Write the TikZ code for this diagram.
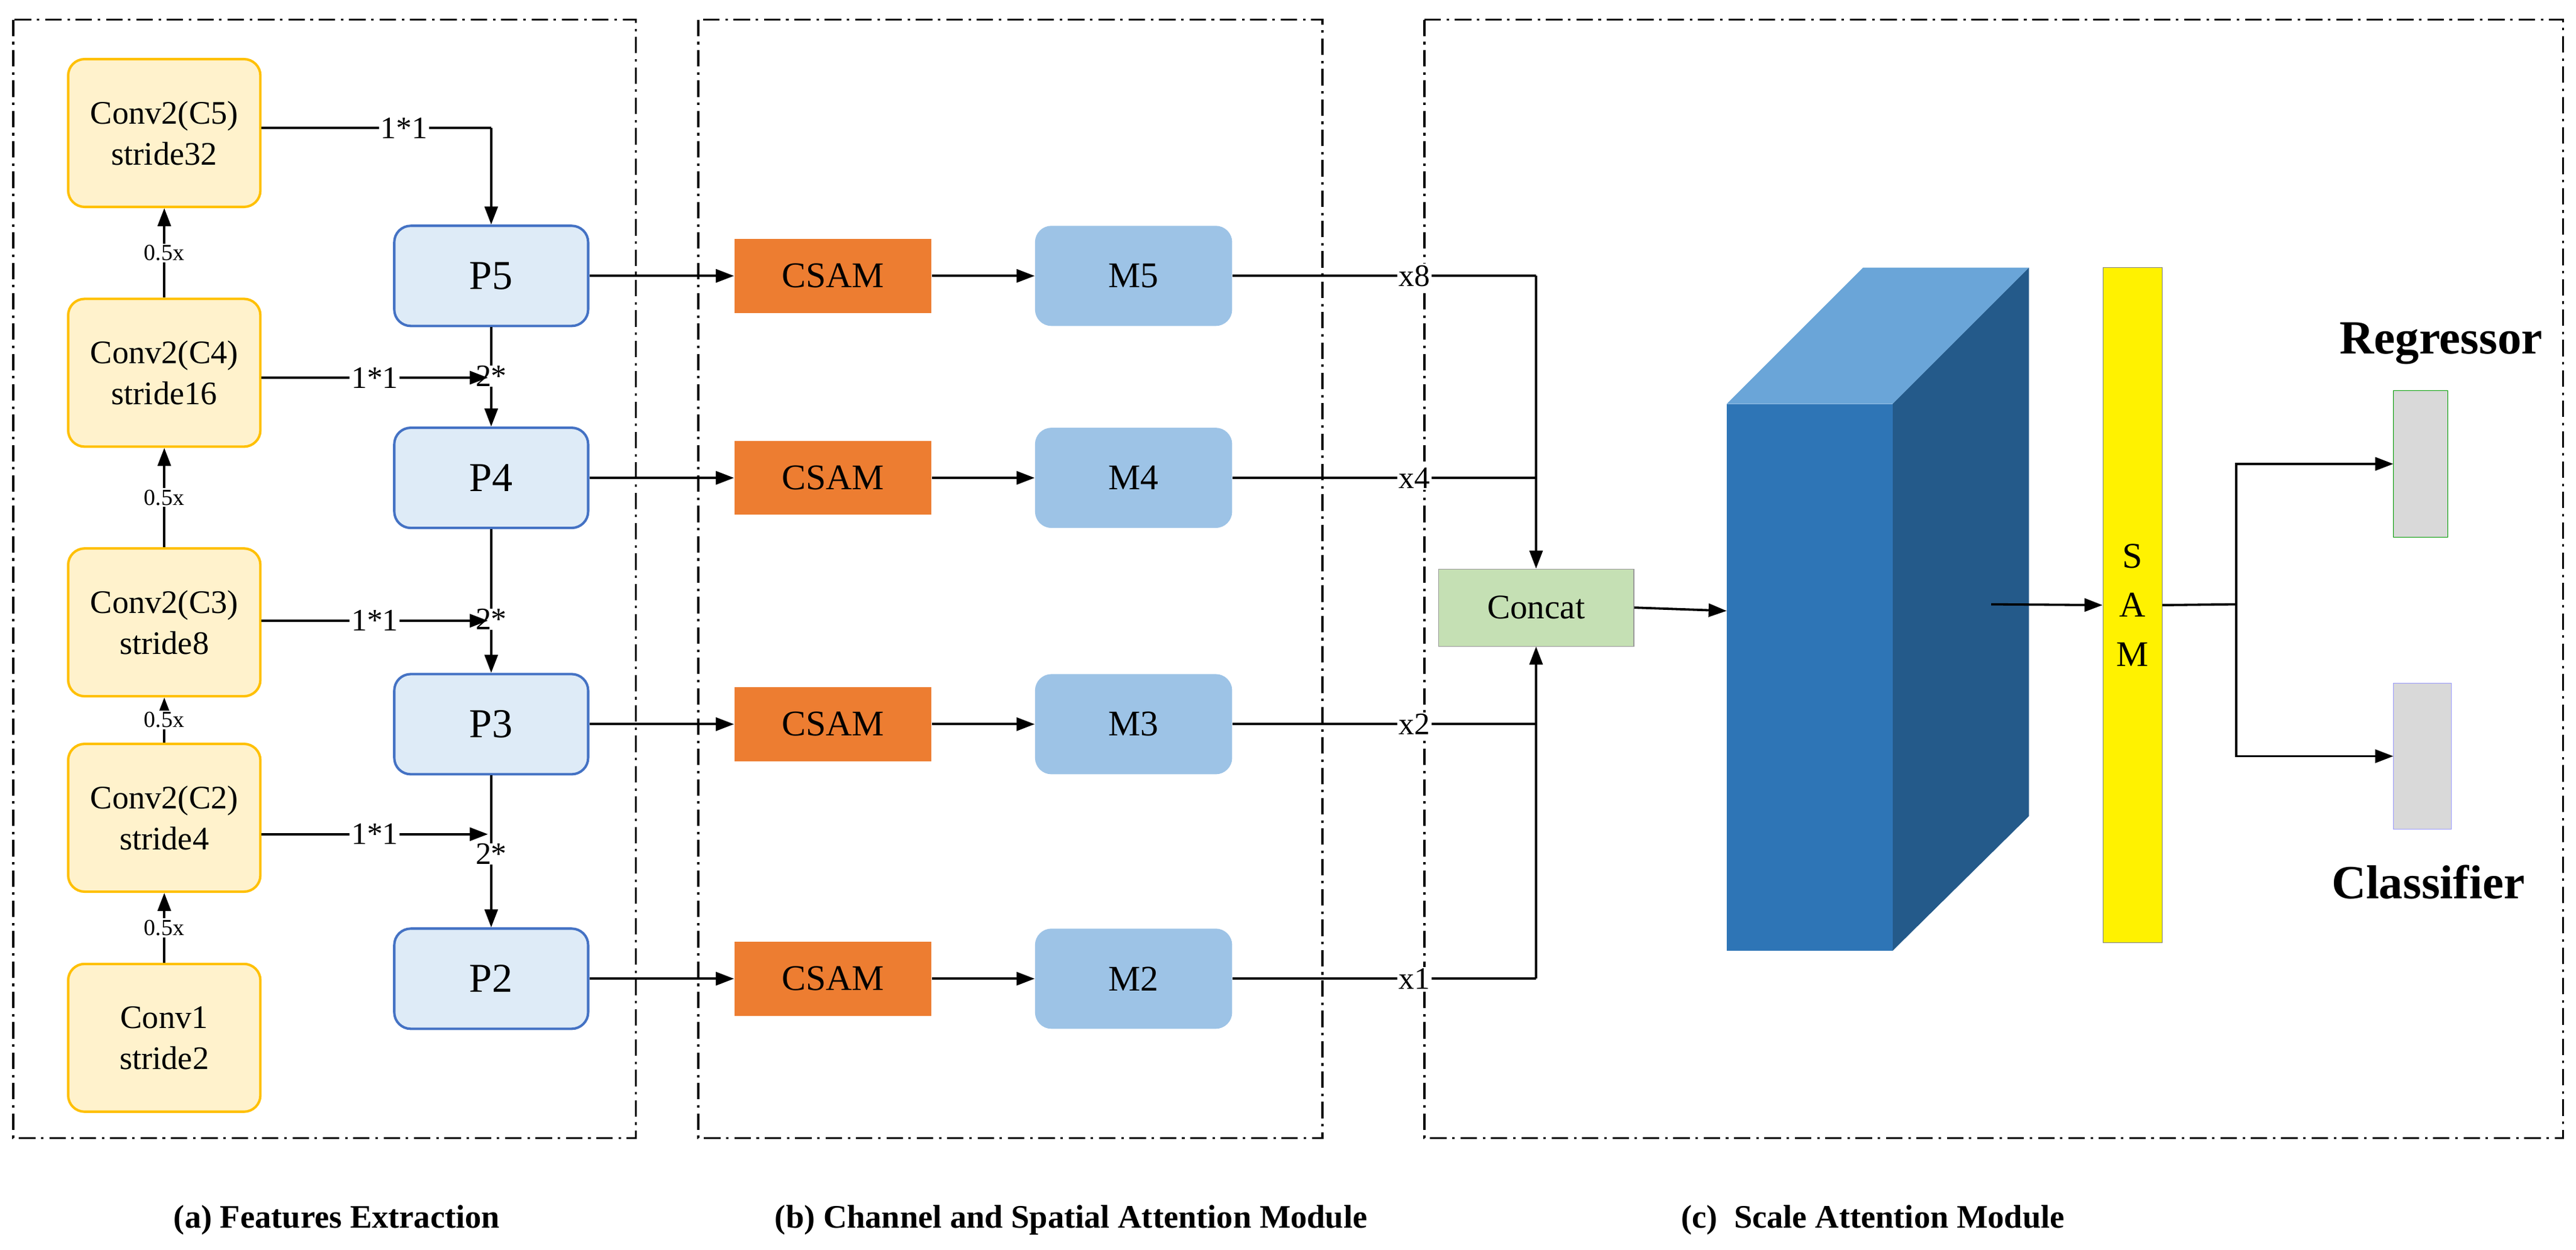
\documentclass[tikz,border=0pt]{standalone}
\usepackage{fontspec}
\setmainfont{Liberation Serif}
\usetikzlibrary{arrows.meta}
\definecolor{convf}{HTML}{FFF2CC}\definecolor{convd}{HTML}{FFC000}
\definecolor{pf}{HTML}{DEEBF7}\definecolor{pd}{HTML}{4472C4}
\definecolor{csam}{HTML}{ED7D31}\definecolor{mf}{HTML}{9DC3E6}
\definecolor{catf}{HTML}{C5E0B4}\definecolor{cubef}{HTML}{2E75B6}
\definecolor{cubet}{HTML}{6AA5D8}\definecolor{cubes}{HTML}{245A8A}
\begin{document}
\begin{tikzpicture}[x=1pt,y=-1pt,
  frame/.style={line width=1.3pt,dash pattern=on 10pt off 3.5pt on 1.5pt off 3.5pt},
  conv/.style={draw=convd,fill=convf,line width=1.5pt,rounded corners=10pt,minimum width=117pt,minimum height=90pt,align=center,font=\fontsize{20}{25}\selectfont},
  pbox/.style={draw=pd,fill=pf,line width=1.5pt,rounded corners=10pt,minimum width=118pt,minimum height=61pt,font=\fontsize{25}{28}\selectfont},
  cs/.style={fill=csam,minimum width=120pt,minimum height=45pt,font=\fontsize{22}{24}\selectfont},
  mb/.style={fill=mf,rounded corners=10pt,minimum width=120pt,minimum height=61pt,font=\fontsize{22}{24}\selectfont},
  arr/.style={-{Triangle[length=11pt,width=8pt]},line width=1.4pt},
  ln/.style={line width=1.4pt},
  sm/.style={fill=white,inner sep=1pt,font=\fontsize{14}{16}\selectfont},
  lb/.style={fill=white,inner sep=1pt,font=\fontsize{19}{21}\selectfont},
  ttl/.style={font=\bfseries\fontsize{20}{24}\selectfont}]
\useasboundingbox (0,0) rectangle (1568,761);
\draw[frame] (8,12) rectangle (387,693);
\draw[frame] (425,12) rectangle (805,693);
\draw[frame] (867,12) rectangle (1560,693);
% conv boxes
\node[conv] (c5) at (100,81) {Conv2(C5)\\stride32};
\node[conv] (c4) at (100,227) {Conv2(C4)\\stride16};
\node[conv] (c3) at (100,379) {Conv2(C3)\\stride8};
\node[conv] (c2) at (100,498) {Conv2(C2)\\stride4};
\node[conv] (c1) at (100,632) {Conv1\\stride2};
\foreach \a/\b in {c4/c5,c3/c4,c2/c3,c1/c2}{
  \draw[arr] (\a.north) -- node[sm]{0.5x} (\b.south);}
% P boxes
\node[pbox] (p5) at (299,168) {P5};
\node[pbox] (p4) at (299,291) {P4};
\node[pbox] (p3) at (299,441) {P3};
\node[pbox] (p2) at (299,596) {P2};
\coordinate (k5) at (299,78);
\draw[ln] (c5.east |- k5) -- node[lb,pos=0.62]{1*1} (k5);
\draw[arr] (k5) -- (p5.north);
\node[lb,fill=none,inner sep=0pt] (t4) at (299,229) {2*};
\node[lb,fill=none,inner sep=0pt] (t3) at (299,377) {2*};
\node[lb,fill=none,inner sep=0pt] (t2) at (299,520) {2*};
\draw[ln] (p5.south) -- (t4.north);
\draw[arr] (t4.south) -- (p4.north);
\draw[ln] (p4.south) -- (t3.north);
\draw[arr] (t3.south) -- (p3.north);
\draw[ln] (p3.south) -- (t2.north);
\draw[arr] (t2.south) -- (p2.north);
\coordinate (e4) at (297,230);\coordinate (e3) at (297,378);\coordinate (e2) at (297,508);
\draw[arr] (c4.east |- e4) -- node[lb,pos=0.5]{1*1} (e4);
\draw[arr] (c3.east |- e3) -- node[lb,pos=0.5]{1*1} (e3);
\draw[arr] (c2.east |- e2) -- node[lb,pos=0.5]{1*1} (e2);
% CSAM and M
\foreach \i/\y in {5/168,4/291,3/441,2/596}{
  \node[cs] (s\i) at (507,\y) {CSAM};
  \node[mb] (m\i) at (690,\y) {M\i};
  \draw[arr] (p\i.east) -- (s\i.west);
  \draw[arr] (s\i.east) -- (m\i.west);}
\node[draw=black!40,fill=catf,minimum width=119pt,minimum height=47pt,font=\fontsize{21}{24}\selectfont] (cat) at (935,370) {Concat};
\draw[ln] (m5.east) -- node[lb,pos=0.6]{x8} (935,168);
\draw[ln] (m4.east) -- node[lb,pos=0.6]{x4} (935,291);
\draw[ln] (m3.east) -- node[lb,pos=0.6]{x2} (935,441);
\draw[ln] (m2.east) -- node[lb,pos=0.6]{x1} (935,596);
\draw[arr] (935,168) -- (cat.north);
\draw[arr] (935,596) -- (cat.south);
% cube
\fill[cubet] (1051,246) -- (1134,163) -- (1235,163) -- (1152,246) -- cycle;
\fill[cubes] (1152,246) -- (1235,163) -- (1235,497) -- (1152,579) -- cycle;
\fill[cubef] (1051,246) rectangle (1152,579);
\coordinate (cubein) at (1051,372);
\draw[arr] (cat.east) -- (cubein);
\node[draw=black!50,fill=yellow,minimum width=36pt,minimum height=411pt,inner sep=0pt,align=center,font=\fontsize{22}{30}\selectfont] (sam) at (1298,368.5) {S\\A\\M};
\coordinate (cubeout) at (1212,368);
\draw[arr] (cubeout) -- (sam.west);
\node[draw=green!60!black,fill=black!15,minimum width=33pt,minimum height=89pt,inner sep=0pt] (reg) at (1473.5,282.5) {};
\node[draw=blue!40,fill=black!15,minimum width=35pt,minimum height=89pt,inner sep=0pt] (cls) at (1474.5,460.5) {};
\coordinate (br) at (1361,368);
\draw[ln] (sam.east) -- (br);
\draw[arr] (br) |- (reg.west);
\draw[arr] (br) |- (cls.west);
\node[font=\bfseries\fontsize{29}{32}\selectfont] (regt) at (1486,209) {Regressor};
\node[font=\bfseries\fontsize{29}{32}\selectfont] (clst) at (1478,537) {Classifier};
\node[ttl] (ta) at (205,743) {(a) Features Extraction};
\node[ttl] (tb) at (652,743) {(b) Channel and Spatial Attention Module};
\node[ttl] (tc) at (1140,743) {(c)\ \ Scale Attention Module};
\end{tikzpicture}
\end{document}
